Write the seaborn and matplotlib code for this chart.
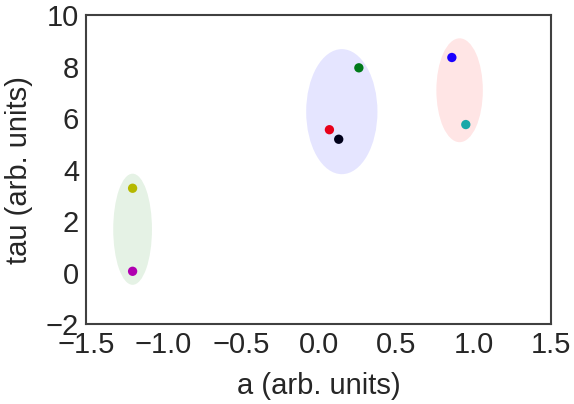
import matplotlib.pyplot as plt
import pandas as pd
import seaborn as sns
from matplotlib.patches import Ellipse

sns.set_theme(style="white")
plt.rcParams.update(
    {
        "font.family": ["Liberation Sans", "DejaVu Sans"],
        "axes.edgecolor": ".25",
        "axes.linewidth": 1.5,
    }
)

# points
point_a = [0.26, 0.07, 0.13, 0.86, 0.95, -1.20, -1.20]
point_tau = [7.95, 5.55, 5.18, 8.35, 5.75, 3.28, 0.06]
point_color = ["#007a1a", "#e8001a", "#00001a", "#1a00ff", "#1aa8a8", "#b5b800", "#b000b0"]

# cluster ellipses
cluster_a = [0.15, 0.91, -1.20]
cluster_tau = [6.25, 7.08, 1.69]
cluster_width = [0.46, 0.30, 0.25]
cluster_height = [4.85, 4.03, 4.31]
cluster_color = ["#0000ff", "#ff0000", "#008000"]

x_ticks = [-1.5, -1.0, -0.5, 0.0, 0.5, 1.0, 1.5]
y_ticks = [-2, 0, 2, 4, 6, 8, 10]

df = pd.DataFrame({"a": point_a, "tau": point_tau, "c": point_color})

fig, ax = plt.subplots(figsize=(5.74, 4.04), dpi=100)
fig.subplots_adjust(left=0.15, right=0.96, bottom=0.197, top=0.963)

for x, y, w, h, c in zip(cluster_a, cluster_tau, cluster_width, cluster_height, cluster_color):
    ax.add_patch(Ellipse((x, y), w, h, facecolor=c, alpha=0.1, edgecolor="none"))

sns.scatterplot(
    data=df,
    x="a",
    y="tau",
    hue="c",
    palette={c: c for c in point_color},
    s=45,
    linewidth=0,
    legend=False,
    ax=ax,
    zorder=3,
)

ax.set_xlim(-1.5, 1.5)
ax.set_ylim(-2, 10)
ax.set_xticks(x_ticks, [f"{t:.1f}".replace("-", "\u2212") for t in x_ticks])
ax.set_yticks(y_ticks, [f"{t}".replace("-", "\u2212") for t in y_ticks])
ax.set_xlabel("a (arb. units)", fontsize=21, labelpad=9)
ax.set_ylabel("tau (arb. units)", fontsize=21, labelpad=9)
ax.tick_params(labelsize=21, length=0, pad=5)

plt.savefig("out.png")
